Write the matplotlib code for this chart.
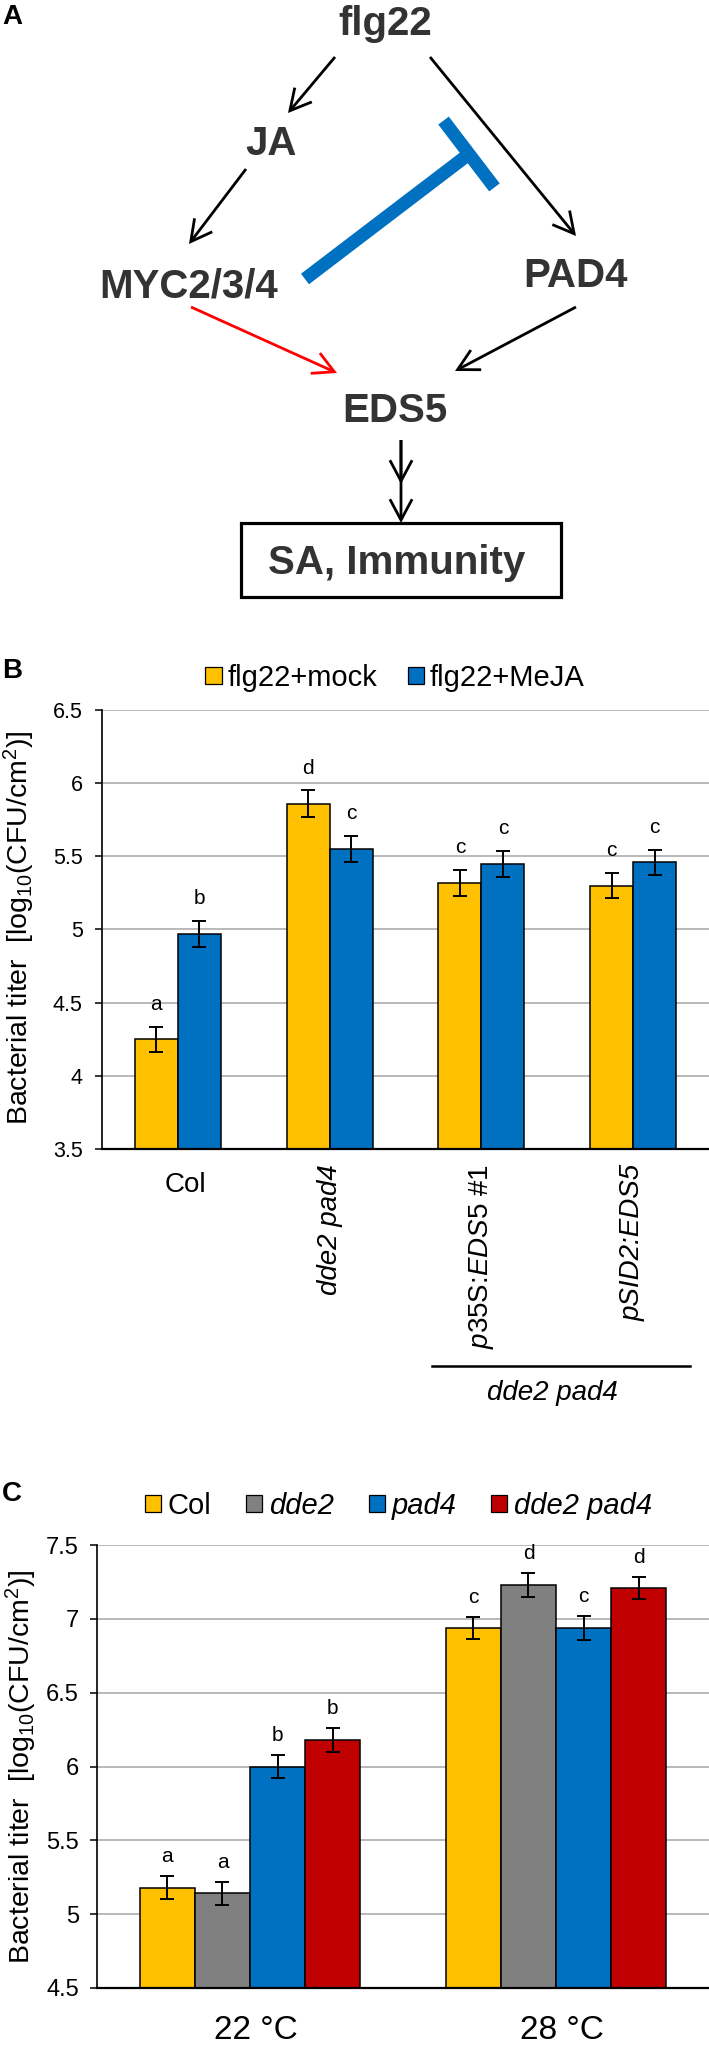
import matplotlib
matplotlib.use('Agg')
import matplotlib.pyplot as plt
from matplotlib.patches import FancyArrowPatch, Rectangle, Patch
from matplotlib.lines import Line2D
import numpy as np

plt.rcParams['font.family'] = ['Liberation Sans', 'DejaVu Sans']
plt.rcParams['mathtext.fontset'] = 'custom'
plt.rcParams['mathtext.rm'] = 'Liberation Sans'
plt.rcParams['mathtext.it'] = 'Liberation Sans:italic'
plt.rcParams['mathtext.bf'] = 'Liberation Sans:bold'

# ---------------- data ----------------
# Panel A (pathway diagram)
a_nodes = ['flg22', 'JA', 'MYC2/3/4', 'PAD4', 'EDS5', 'SA, Immunity']

# Panel B
b_groups = ['Col', 'dde2 pad4', r'$\mathit{p}$35S:$\mathit{EDS5}$ #1', 'pSID2:EDS5']
b_series = ['flg22+mock', 'flg22+MeJA']
b_mock = [4.25, 5.86, 5.32, 5.30]
b_meja = [4.97, 5.55, 5.45, 5.46]
b_mock_err = [0.085, 0.09, 0.09, 0.088]
b_meja_err = [0.09, 0.09, 0.088, 0.085]
b_mock_letters = ['a', 'd', 'c', 'c']
b_meja_letters = ['b', 'c', 'c', 'c']
b_yticks = [3.5, 4, 4.5, 5, 5.5, 6, 6.5]
b_subgroup = 'dde2 pad4'

# Panel C
c_groups = ['22 °C', '28 °C']
c_series = ['Col', 'dde2', 'pad4', 'dde2 pad4']
c_col = [5.18, 6.94]
c_dde2 = [5.14, 7.23]
c_pad4 = [6.00, 6.94]
c_dde2pad4 = [6.18, 7.21]
c_col_err = [0.08, 0.075]
c_dde2_err = [0.08, 0.08]
c_pad4_err = [0.08, 0.08]
c_dde2pad4_err = [0.08, 0.075]
c_col_letters = ['a', 'c']
c_dde2_letters = ['a', 'd']
c_pad4_letters = ['b', 'c']
c_dde2pad4_letters = ['b', 'd']
c_yticks = [4.5, 5, 5.5, 6, 6.5, 7, 7.5]

YELLOW = '#FFC000'
BLUE = '#0070C0'
GRAY = '#808080'
RED = '#C00000'
TXT = '#333333'

W, H = 709, 2047
fig = plt.figure(figsize=(W / 100, H / 100), dpi=100)

# overlay in pixel coordinates
ov = fig.add_axes([0, 0, 1, 1])
ov.set_xlim(0, W)
ov.set_ylim(H, 0)
ov.axis('off')

# ---------------- Panel A ----------------
node_pos = {
    'flg22': (385, 35), 'JA': (271, 155), 'MYC2/3/4': (189, 297),
    'PAD4': (576, 287), 'EDS5': (395, 422), 'SA, Immunity': (397, 574),
}
for name in a_nodes:
    x, y = node_pos[name]
    ov.text(x, y, name, ha='center', va='baseline', fontsize=29,
            fontweight='bold', color=TXT)


def arrow(p0, p1, color='black', lw=2.0):
    a = FancyArrowPatch(p0, p1,
                        arrowstyle='->,head_length=0.75,head_width=0.4',
                        mutation_scale=20, lw=lw, color=color,
                        shrinkA=0, shrinkB=0, joinstyle='miter',
                        capstyle='butt')
    ov.add_patch(a)

arrow((335, 57), (288, 113))
arrow((246, 169), (189, 244))
arrow((430, 57), (576, 236))
arrow((191, 307), (337, 373), color='#FF0000')
arrow((576, 307), (455, 371))
arrow((401, 440), (401, 484))
arrow((401, 440), (401, 523))

# blue inhibition T
p_start = np.array([305.0, 279.0])
p_end = np.array([469.0, 154.0])
d = p_end - p_start
d = d / np.hypot(*d)
perp = np.array([-d[1], d[0]])
ov.add_line(Line2D([p_start[0], p_end[0]], [p_start[1], p_end[1]],
                   color=BLUE, lw=9.5, solid_capstyle='butt'))
c1 = p_end + perp * 42
c2 = p_end - perp * 42
ov.add_line(Line2D([c1[0], c2[0]], [c1[1], c2[1]], color=BLUE, lw=9.5,
                   solid_capstyle='butt'))

ov.add_patch(Rectangle((241, 523), 320, 74, fill=False, lw=2.3,
                       ec='black'))

# panel letters
for lab, (x, y) in zip(['A', 'B', 'C'], [(12, 17), (12, 671), (12, 1494)]):
    ov.text(x, y, lab, ha='center', va='center', fontsize=20,
            fontweight='bold', color='black')

# ---------------- Panel B ----------------
bl, br, bt, bb = 102, 709, 710, 1149
axB = fig.add_axes([bl / W, 1 - bb / H, (br - bl) / W, (bb - bt) / H])
xb = np.arange(len(b_groups))
wb = 0.283
for vals, errs, lets, col, off in [
        (b_mock, b_mock_err, b_mock_letters, YELLOW, -wb / 2),
        (b_meja, b_meja_err, b_meja_letters, BLUE, wb / 2)]:
    axB.bar(xb + off, vals, wb, color=col, edgecolor='black', lw=1.1,
            zorder=2)
    axB.errorbar(xb + off, vals, yerr=errs, fmt='none', ecolor='black',
                 elinewidth=1.4, capsize=5, capthick=1.4, zorder=3)
    for xi, v, e, l in zip(xb + off, vals, errs, lets):
        axB.annotate(l, (xi, v + e), xytext=(0, 9),
                     textcoords='offset points', ha='center',
                     va='bottom', fontsize=15)
axB.set_xlim(-0.5, len(b_groups) - 0.5)
axB.set_ylim(3.5, 6.5)
axB.set_yticks(b_yticks)
axB.set_yticklabels(['%g' % t for t in b_yticks])
axB.yaxis.grid(True, color='#A6A6A6', lw=1.1, zorder=0)
axB.set_axisbelow(True)
for s in ['top', 'right']:
    axB.spines[s].set_visible(False)
axB.spines['left'].set_linewidth(1.2)
axB.spines['bottom'].set_linewidth(1.6)
axB.tick_params(axis='y', length=5, width=1.1, pad=9, labelsize=15.5)
axB.tick_params(axis='x', length=0, labelbottom=False)
trB = axB.get_xaxis_transform()
axB.text(xb[0] + 0.05, -0.082, b_groups[0], transform=trB, ha='center',
         va='center', fontsize=20)
axB.text(xb[1], -0.034, b_groups[1], transform=trB, ha='center', va='top',
         rotation=90, fontsize=20, fontstyle='italic')
axB.text(xb[2], -0.034, b_groups[2], transform=trB, ha='center', va='top',
         rotation=90, fontsize=20)
axB.text(xb[3], -0.034, b_groups[3], transform=trB, ha='center', va='top',
         rotation=90, fontsize=20, fontstyle='italic')
ov.add_line(Line2D([432, 690], [1366, 1366], color='black', lw=1.8))
ov.text(552, 1393, b_subgroup, ha='center', va='center', fontsize=20,
        fontstyle='italic')
fig.text(19 / W, 1 - 928 / H,
         'Bacterial titer  [log$_{10}$(CFU/cm$^{2}$)]', rotation=90,
         ha='center', va='center', fontsize=20.5)
hB = [Patch(facecolor=c, edgecolor='black', lw=0.9) for c in (YELLOW, BLUE)]
fig.legend(hB, b_series, loc='center', bbox_to_anchor=(0.557, 1 - 678 / H),
           ncol=2, frameon=False, fontsize=21, handlelength=0.55,
           handleheight=0.55, handletextpad=0.2, columnspacing=1.05,
           borderpad=0)

# ---------------- Panel C ----------------
cl, cr, ct, cb = 97, 709, 1545, 1988
axC = fig.add_axes([cl / W, 1 - cb / H, (cr - cl) / W, (cb - ct) / H])
xc = np.arange(len(c_groups))
wc = 0.18
c_vals = [c_col, c_dde2, c_pad4, c_dde2pad4]
c_errs = [c_col_err, c_dde2_err, c_pad4_err, c_dde2pad4_err]
c_lets = [c_col_letters, c_dde2_letters, c_pad4_letters, c_dde2pad4_letters]
c_cols = [YELLOW, GRAY, BLUE, RED]
for i, (vals, errs, lets, col) in enumerate(zip(c_vals, c_errs, c_lets,
                                                 c_cols)):
    off = (i - 1.5) * wc
    axC.bar(xc + off, vals, wc, color=col, edgecolor='black', lw=1.1,
            zorder=2)
    axC.errorbar(xc + off, vals, yerr=errs, fmt='none', ecolor='black',
                 elinewidth=1.4, capsize=5, capthick=1.4, zorder=3)
    for xi, v, e, l in zip(xc + off, vals, errs, lets):
        axC.annotate(l, (xi, v + e), xytext=(0, 7),
                     textcoords='offset points', ha='center',
                     va='bottom', fontsize=15)
axC.set_xlim(-0.5, len(c_groups) - 0.5)
axC.set_ylim(4.5, 7.5)
axC.set_yticks(c_yticks)
axC.set_yticklabels(['%g' % t for t in c_yticks])
axC.yaxis.grid(True, color='#A6A6A6', lw=1.1, zorder=0)
axC.set_axisbelow(True)
for s in ['top', 'right']:
    axC.spines[s].set_visible(False)
axC.spines['left'].set_linewidth(1.2)
axC.spines['bottom'].set_linewidth(1.6)
axC.tick_params(axis='y', length=5, width=1.1, pad=8, labelsize=17)
axC.tick_params(axis='x', length=0, labelbottom=False)
trC = axC.get_xaxis_transform()
for xi, g in zip(xc, c_groups):
    axC.text(xi + 0.02, -0.097, g, transform=trC, ha='center', va='center',
             fontsize=24)
fig.text(21 / W, 1 - 1767 / H,
         'Bacterial titer  [log$_{10}$(CFU/cm$^{2}$)]', rotation=90,
         ha='center', va='center', fontsize=20.5)
hC = [Patch(facecolor=c, edgecolor='black', lw=0.9) for c in c_cols]
legC = fig.legend(hC, c_series, loc='center',
                  bbox_to_anchor=(0.562, 1 - 1506 / H), ncol=4,
                  frameon=False, fontsize=21, handlelength=0.55,
                  handleheight=0.55, handletextpad=0.22, columnspacing=1.2,
                  borderpad=0)
for t in legC.get_texts()[1:]:
    t.set_fontstyle('italic')

fig.savefig('out.png', dpi=100)
